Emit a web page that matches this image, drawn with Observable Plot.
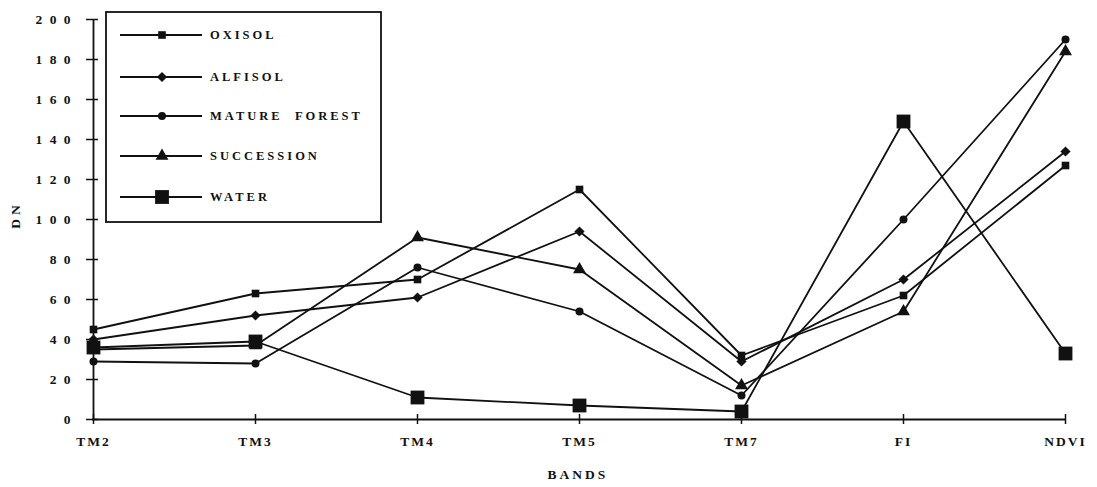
<!DOCTYPE html>
<html>
<head>
<meta charset="utf-8">
<script src="https://cdn.jsdelivr.net/npm/d3@7"></script>
<script src="https://cdn.jsdelivr.net/npm/@observablehq/plot@0.6"></script>
<style>
  html, body { margin: 0; padding: 0; background: #fff; }
  #chart { position: relative; width: 1097px; height: 487px; }
  svg { font-family: "Liberation Serif", "DejaVu Serif", serif; font-weight: bold; }
</style>
</head>
<body>
<div id="chart"></div>
<script>
const bands = ["TM2", "TM3", "TM4", "TM5", "TM7", "FI", "NDVI"];
const yTicks = [0, 20, 40, 60, 80, 100, 120, 140, 160, 180, 200];
const seriesNames = ["OXISOL", "ALFISOL", "MATURE  FOREST", "SUCCESSION", "WATER"];
const oxisol       = [45, 63, 70, 115, 32, 62, 127];
const alfisol      = [40, 52, 61, 94, 29, 70, 134];
const matureForest = [29, 28, 76, 54, 12, 100, 190];
const succession   = [35, 37, 91, 75, 17, 54, 184];
const water        = [36, 39, 11, 7, 4, 149, 33];

const seriesValues = [oxisol, alfisol, matureForest, succession, water];
const symbols = ["square", "diamond2", "circle", "triangle", "square"];
const radii = [4.3, 4.6, 4.0, 4.8, 7.8];

const rows = [];
seriesNames.forEach((name, i) => {
  bands.forEach((b, j) => rows.push({series: name, band: b, value: seriesValues[i][j], idx: i}));
});

const spaced = s => s.split("").join(" ");

const marks = [
  Plot.ruleY([0], {stroke: "#111", strokeWidth: 1.8}),
  Plot.ruleX([bands[0]], {y1: 0, y2: 200, stroke: "#111", strokeWidth: 1.8}),
  Plot.axisY(yTicks, {tickSize: 12, dx: 6, tickFormat: () => "", stroke: "#111", strokeWidth: 1.5, label: null}),
  Plot.axisY(yTicks, {tickSize: 0, tickPadding: 20, tickFormat: d => spaced(String(d)), fontSize: 13.5, fill: "#111", label: null}),
  Plot.axisX(bands, {tickSize: 10, dy: -5, tickFormat: () => "", stroke: "#111", strokeWidth: 1.5, label: null}),
  Plot.axisX(bands, {tickSize: 0, tickPadding: 17, fontSize: 13.5, fill: "#111", label: null}),
];
seriesNames.forEach((name, i) => {
  const data = rows.filter(r => r.series === name);
  marks.push(Plot.line(data, {x: "band", y: "value", stroke: "#111", strokeWidth: 1.8}));
  marks.push(Plot.dot(data, {x: "band", y: "value", symbol: () => symbols[i], r: radii[i], fill: "#111", stroke: "none"}));
});

const chart = Plot.plot({
  width: 1097,
  height: 487,
  marginLeft: 92,
  marginRight: 31,
  marginTop: 19,
  marginBottom: 68,
  style: {fontFamily: '"Liberation Serif", "DejaVu Serif", serif', fontWeight: "bold", background: "#fff"},
  x: {type: "point", domain: bands, padding: 0, label: null, axis: null},
  y: {domain: [0, 200], label: null, axis: null},
  marks
});

const svg = d3.select(chart);
svg.selectAll("text").style("letter-spacing", "2px");

svg.append("text")
  .attr("x", 578).attr("y", 479)
  .attr("text-anchor", "middle")
  .attr("font-size", 13.5).attr("fill", "#111")
  .style("letter-spacing", "3px")
  .text("BANDS");
svg.append("text")
  .attr("transform", "translate(20,215) rotate(-90)")
  .attr("text-anchor", "middle")
  .attr("font-size", 13.5).attr("fill", "#111")
  .style("letter-spacing", "4px")
  .text("DN");

const lg = svg.append("g").attr("text-anchor", "start");
lg.append("rect")
  .attr("x", 106).attr("y", 12).attr("width", 275).attr("height", 210)
  .attr("fill", "#fff").attr("stroke", "#111").attr("stroke-width", 1.8);
const legY = [35, 77, 116, 156, 197];
const symMap = {square: d3.symbolSquare, diamond2: d3.symbolDiamond2, circle: d3.symbolCircle, triangle: d3.symbolTriangle};
seriesNames.forEach((name, i) => {
  const y = legY[i];
  lg.append("line").attr("x1", 120).attr("x2", 202).attr("y1", y).attr("y2", y)
    .attr("stroke", "#111").attr("stroke-width", 1.8);
  lg.append("path")
    .attr("transform", `translate(162,${y})`)
    .attr("d", d3.symbol(symMap[symbols[i]], radii[i] * radii[i] * Math.PI)())
    .attr("fill", "#111");
  lg.append("text")
    .attr("x", 210).attr("y", y).attr("dy", "0.35em")
    .attr("text-anchor", "start")
    .attr("font-size", 12.5).attr("fill", "#111")
    .style("letter-spacing", "3px")
    .style("white-space", "pre")
    .text(name);
});

document.getElementById("chart").appendChild(chart);
</script>
</body>
</html>
